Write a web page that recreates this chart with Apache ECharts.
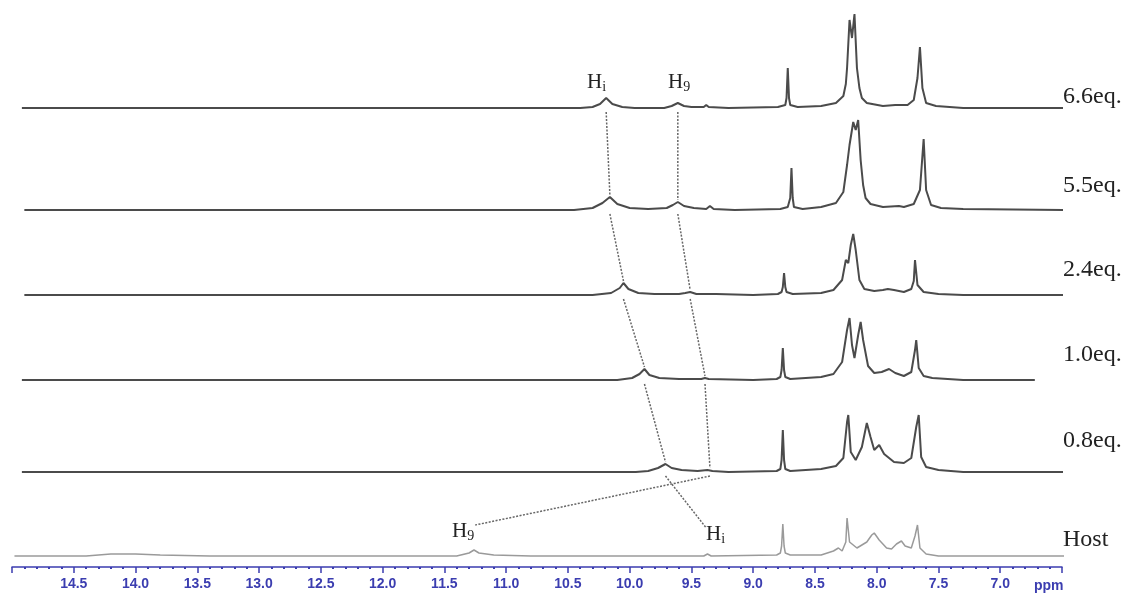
<!DOCTYPE html>
<html>
<head>
<meta charset="utf-8">
<title>NMR titration</title>
<script src="https://cdn.jsdelivr.net/npm/echarts@6/dist/echarts.min.js"></script>
<style>
  html, body { margin: 0; padding: 0; background: #fff; }
  #main { width: 1135px; height: 600px; }
</style>
</head>
<body>
<div id="main"></div>
<script>
// 各条谱线的标签（自上而下）
const rowLabels = ['6.6eq.', '5.5eq.', '2.4eq.', '1.0eq.', '0.8eq.', 'Host'];
// 每条谱线基线的纵向偏移
const rowOffsets = [459, 357, 272, 187, 95, 11];

// 谱线数据 [ppm, 强度]
const spec66 = [[14.92,0],[10.40,0],[10.30,1],[10.24,4],[10.19,10],[10.14,4],[10.06,1],[9.96,0],[9.72,0],[9.66,2],[9.61,5],[9.56,2],[9.50,1],[9.40,1],[9.38,3],[9.36,1],[9.20,0],[8.80,1],[8.74,3],[8.73,10],[8.72,40],[8.71,10],[8.70,3],[8.64,1],[8.45,2],[8.33,5],[8.27,12],[8.25,24],[8.24,40],[8.22,88],[8.20,70],[8.18,94],[8.16,40],[8.14,20],[8.12,10],[8.08,5],[7.95,2],[7.85,3],[7.75,3],[7.70,8],[7.67,30],[7.65,61],[7.63,20],[7.60,5],[7.52,2],[7.30,0],[6.48,0]];
const spec55 = [[14.90,0],[10.45,0],[10.30,2],[10.22,7],[10.16,13],[10.10,6],[10.00,2],[9.85,1],[9.70,2],[9.65,5],[9.61,8],[9.56,4],[9.48,2],[9.38,1],[9.35,4],[9.32,1],[9.15,0],[8.78,1],[8.72,3],[8.70,12],[8.69,42],[8.68,12],[8.67,3],[8.60,1],[8.45,3],[8.33,7],[8.27,18],[8.24,45],[8.22,65],[8.19,88],[8.17,80],[8.15,90],[8.13,50],[8.11,25],[8.09,12],[8.05,6],[7.95,3],[7.82,4],[7.78,3],[7.70,6],[7.65,20],[7.62,71],[7.60,20],[7.56,5],[7.48,2],[7.30,1],[6.48,0]];
const spec24 = [[14.90,0],[10.30,0],[10.15,2],[10.08,7],[10.05,12],[10.01,6],[9.93,2],[9.80,1],[9.60,1],[9.55,2],[9.51,3],[9.46,1],[9.30,1],[9.00,0],[8.80,1],[8.77,3],[8.76,8],[8.75,22],[8.74,8],[8.73,3],[8.68,1],[8.45,2],[8.35,5],[8.28,15],[8.25,35],[8.23,32],[8.21,50],[8.19,61],[8.17,45],[8.14,15],[8.10,6],[8.02,4],[7.95,5],[7.91,6],[7.86,5],[7.78,3],[7.72,6],[7.70,14],[7.69,35],[7.67,10],[7.62,3],[7.50,1],[7.30,0],[6.48,0]];
const spec10 = [[14.92,0],[10.10,0],[9.98,2],[9.92,6],[9.88,11],[9.84,5],[9.76,2],[9.60,1],[9.42,1],[9.39,2],[9.36,1],[9.00,0],[8.81,1],[8.78,3],[8.77,10],[8.76,32],[8.75,10],[8.74,3],[8.70,1],[8.45,3],[8.35,6],[8.28,18],[8.24,50],[8.22,62],[8.20,35],[8.18,22],[8.15,45],[8.13,58],[8.11,40],[8.07,14],[8.02,7],[7.96,8],[7.90,11],[7.85,7],[7.78,4],[7.72,8],[7.69,30],[7.68,40],[7.66,12],[7.62,4],[7.55,2],[7.30,0],[6.72,0]];
const spec08 = [[14.92,0],[9.95,0],[9.85,1],[9.77,4],[9.71,8],[9.66,4],[9.58,2],[9.45,1],[9.37,2],[9.33,1],[9.20,0],[8.81,1],[8.78,3],[8.77,12],[8.76,42],[8.75,12],[8.74,3],[8.70,1],[8.45,3],[8.33,6],[8.27,14],[8.24,50],[8.23,57],[8.21,20],[8.17,12],[8.12,25],[8.08,49],[8.05,35],[8.02,22],[7.98,27],[7.94,18],[7.86,10],[7.78,9],[7.72,14],[7.68,45],[7.66,57],[7.64,15],[7.60,5],[7.50,2],[7.30,0],[6.48,0]];
const specHost = [[14.98,0],[14.40,0],[14.20,2],[14.00,2],[13.80,1],[13.40,0],[11.40,0],[11.30,3],[11.26,6],[11.22,3],[11.10,1],[10.80,0],[9.40,0],[9.37,2],[9.34,0],[8.81,1],[8.78,3],[8.77,10],[8.76,32],[8.75,10],[8.74,3],[8.70,1],[8.45,1],[8.35,5],[8.31,8],[8.28,5],[8.25,14],[8.24,38],[8.22,14],[8.16,8],[8.08,14],[8.04,21],[8.02,23],[7.98,16],[7.92,8],[7.88,7],[7.84,12],[7.80,15],[7.77,10],[7.72,8],[7.69,20],[7.67,31],[7.65,8],[7.60,2],[7.50,0],[6.48,0]];
const spectra = [spec66, spec55, spec24, spec10, spec08, specHost];

// Hi 与 H9 的化学位移（自上而下）及峰顶高度
const hiShift = [10.19, 10.16, 10.05, 9.88, 9.71, 9.38];
const hiTop = [10, 13, 12, 11, 8, 26];
const h9Shift = [9.61, 9.61, 9.51, 9.39, 9.35, 11.25];
const h9Top = [5, 8, 3, 2, 2, 29];

const myChart = echarts.init(document.getElementById('main'));

const blue = '#3b3db0';
const series = [];

spectra.forEach((s, i) => {
    series.push({
        name: rowLabels[i],
        type: 'line',
        showSymbol: false,
        symbol: 'none',
        silent: true,
        lineStyle: { color: i === 5 ? '#9a9a9a' : '#4b4b4b', width: i === 5 ? 1.5 : 2 },
        data: s.map(p => [p[0], rowOffsets[i] + p[1]])
    });
});

// 虚线连接各谱线中相同质子的峰
function connector(shift, top) {
    const pts = [];
    for (let k = 0; k < shift.length - 1; k++) {
        pts.push([shift[k], rowOffsets[k] - 4]);
        pts.push([shift[k + 1], rowOffsets[k + 1] + top[k + 1] + 2]);
        pts.push('-');
    }
    return pts;
}
[connector(hiShift, hiTop), connector(h9Shift, h9Top)].forEach(d => {
    series.push({
        type: 'line',
        showSymbol: false,
        symbol: 'none',
        silent: true,
        connectNulls: false,
        lineStyle: { color: '#666', width: 1.5, type: [2, 1.5] },
        data: d
    });
});

const hText = (sub) => '{h|H}{s|' + sub + '}';
const hRich = {
    h: { fontFamily: 'Liberation Serif', fontSize: 21, fill: '#222' },
    s: { fontFamily: 'Liberation Serif', fontSize: 14, fill: '#222', padding: [10, 0, 0, 0] }
};

const graphics = rowLabels.map((t, i) => ({
    type: 'text',
    left: 1063,
    top: [85, 174, 258, 343, 429, 528][i],
    style: { text: t, font: '24px "Liberation Serif"', fill: '#222' }
}));
[[587, 72, 'i'], [668, 72, '9'], [452, 521, '9'], [706, 524, 'i']].forEach(a => {
    graphics.push({
        type: 'text', left: a[0], top: a[1],
        style: { text: hText(a[2]), rich: hRich }
    });
});
graphics.push({
    type: 'text', left: 1034, top: 579,
    style: { text: 'ppm', font: 'bold 14px "Liberation Sans"', fill: blue }
});

myChart.setOption({
    animation: false,
    backgroundColor: '#fff',
    grid: { left: 12, right: 73, top: 0, bottom: 33 },
    xAxis: {
        type: 'value',
        inverse: true,
        min: 6.5,
        max: 15.0,
        interval: 0.5,
        axisLine: { lineStyle: { color: blue, width: 1.5 } },
        axisTick: { length: 6, lineStyle: { color: blue, width: 1.5 } },
        minorTick: { show: true, splitNumber: 5, length: 2, lineStyle: { color: blue, width: 2 } },
        splitLine: { show: false },
        axisLabel: {
            color: blue,
            fontWeight: 'bold',
            fontSize: 14,
            fontFamily: 'Liberation Sans',
            margin: 10,
            formatter: v => (v > 14.99 || v < 6.51) ? '' : v.toFixed(1)
        }
    },
    yAxis: {
        type: 'value',
        min: 0,
        max: 567,
        show: false
    },
    graphic: graphics,
    series: series
});
</script>
</body>
</html>
